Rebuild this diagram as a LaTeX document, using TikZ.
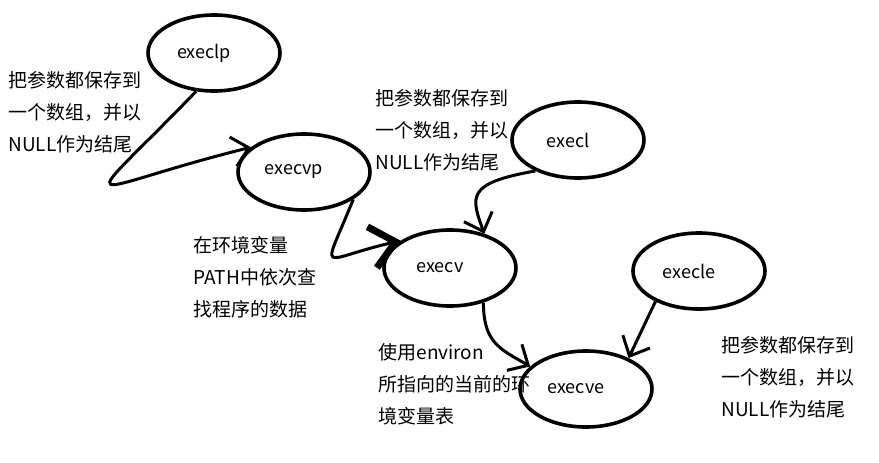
\documentclass[tikz,border=0pt]{standalone}
\usepackage{fontspec}
\setmainfont{Noto Sans CJK SC}
\usetikzlibrary{%
  arrows.meta,%
  shapes.geometric,% wg. ellipse
  positioning%
}

\begin{document}
\begin{tikzpicture}
[x=1pt, y=1pt, line width=3pt, >={Straight Barb[length=16pt,width=30pt]},
call/.style={ellipse, draw, line width=3.6pt, inner sep=0pt, minimum width=132pt, minimum height=76pt, font=\fontsize{18}{20}\selectfont, execute at begin node=\hspace*{-20pt}},
note/.style={align=left, anchor=north west, inner sep=0pt, font=\fontsize{19}{32}\selectfont},
blob/.style={-{Straight Barb[length=24pt,width=42pt,line width=7pt]}}]

\useasboundingbox (0,0) rectangle (879,-463);

\node[call] (execlp) at (214,-53) {execlp};
\node[call] (execvp) at (304,-172) {execvp};
\node[call] (execl) at (578,-140) {execl};
\node[call] (execv) at (450,-268) {execv};
\node[call] (execle) at (699,-271) {execle};
\node[call] (execve) at (586,-389) {execve};

\node[note] (arglp) at (7,-70) {把参数都保存到\\一个数组，并以\\NULL作为结尾};
\node[note] (argl) at (374,-88) {把参数都保存到\\一个数组，并以\\NULL作为结尾};
\node[note] (pathvp) at (192,-235) {在环境变量\\PATH中依次查\\找程序的数据};
\node[note] (envv) at (377,-342) {使用environ\\所指向的当前的环\\境变量表};
\node[note] (argle) at (720,-335) {把参数都保存到\\一个数组，并以\\NULL作为结尾};

\draw[->] (execlp.245) to[out=226, in=194, out distance=180pt, in distance=180pt] (execvp.155);
\draw[blob] (execvp.331) to[out=248, in=193, out distance=85pt, in distance=85pt] (execv.151);
\draw[->] (execl.216) .. controls +(190:70) and +(110:40) .. (execv.45);
\draw[->] (execv.314) .. controls +(270:40) and +(150:35) .. (execve.158);
\draw[->] (execle.215) -- (execve.36);
\end{tikzpicture}
\end{document}
